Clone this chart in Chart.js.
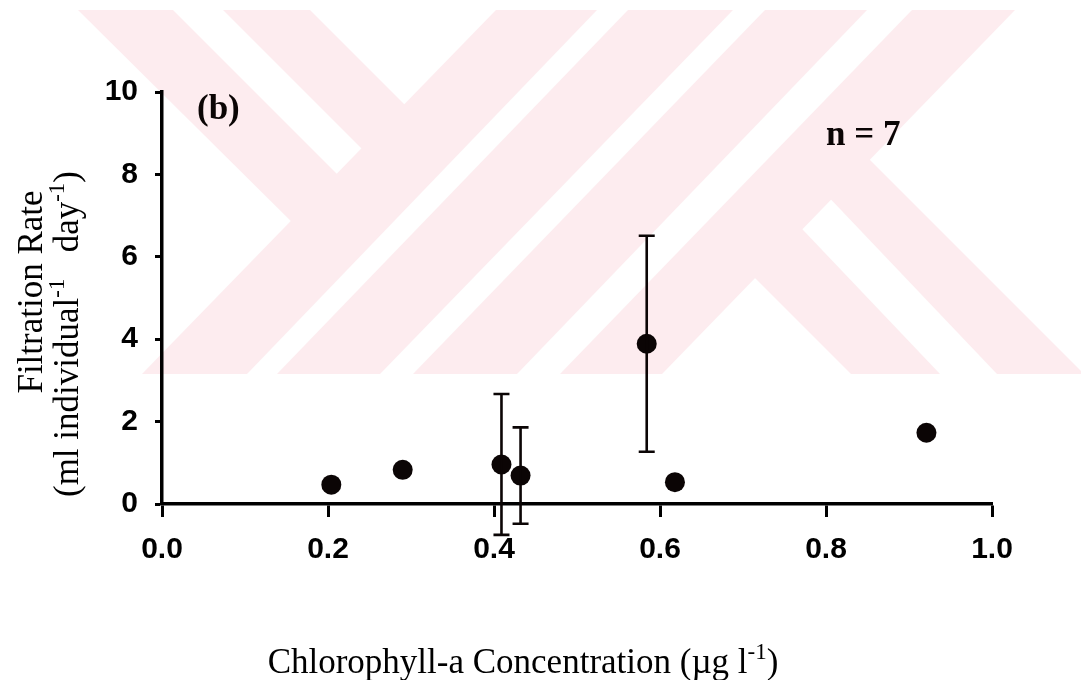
<!DOCTYPE html>
<html>
<head>
<meta charset="utf-8">
<script src="https://cdn.jsdelivr.net/npm/chart.js@4.4.1/dist/chart.umd.min.js"></script>
<style>
  html, body { margin: 0; padding: 0; background: #ffffff; }
  #wrap { width: 1081px; height: 680px; position: relative; }
</style>
</head>
<body>
<div id="wrap"><canvas id="c" width="1081" height="680"></canvas></div>
<script>
// ---- data ----
const chlorophyll = [0.204, 0.29, 0.409, 0.432, 0.584, 0.618, 0.921];   // x (µg l-1)
const filtration  = [0.47, 0.83, 0.96, 0.69, 3.89, 0.53, 1.73];         // y (ml ind-1 day-1)
const filtrationErr = [0, 0, 1.71, 1.17, 2.62, 0, 0];                    // ± error
const xTickLabels = ['0.0', '0.2', '0.4', '0.6', '0.8', '1.0'];
const yTickLabels = ['0', '2', '4', '6', '8', '10'];
const panelLabel = '(b)';
const sampleLabel = 'n = 7';

const INK = '#0b0505';
const PINK = '#fdecef';

// pale watermark drawn behind everything
const watermark = {
  id: 'watermark',
  beforeDraw(chart) {
    const ctx = chart.ctx;
    const poly = (pts, col) => {
      ctx.beginPath();
      ctx.moveTo(pts[0][0], pts[0][1]);
      for (let i = 1; i < pts.length; i++) ctx.lineTo(pts[i][0], pts[i][1]);
      ctx.closePath();
      ctx.fillStyle = col;
      ctx.fill();
    };
    ctx.save();
    ctx.fillStyle = '#ffffff';
    ctx.fillRect(0, 0, chart.width, chart.height);
    ctx.beginPath();
    ctx.rect(0, 10, chart.width, 364);
    ctx.clip();
    // left wing and its white stripe
    poly([[78,10],[310,10],[430,130],[310,240]], PINK);
    poly([[173,10],[223,10],[400,187],[350,187]], '#ffffff');
    // right wing and its white stripe
    poly([[715,238],[842,132],[1084,374],[851,374]], PINK);
    poly([[765,190],[822,190],[997,374],[940,374]], '#ffffff');
    // central band with three white stripes
    poly([[496,10],[1015,10],[662,374],[142,374]], PINK);
    poly([[597,10],[628,10],[277,374],[247,374]], '#ffffff');
    poly([[733,10],[765,10],[413,374],[380,374]], '#ffffff');
    poly([[867,10],[912,10],[560,374],[517,374]], '#ffffff');
    ctx.restore();
  }
};

// error bars
const errorBars = {
  id: 'errorBars',
  afterDatasetsDraw(chart) {
    const ctx = chart.ctx, xs = chart.scales.x, ys = chart.scales.y;
    ctx.save();
    ctx.strokeStyle = INK;
    ctx.lineWidth = 2.6;
    for (let i = 0; i < chlorophyll.length; i++) {
      const e = filtrationErr[i];
      if (!e) continue;
      const px = xs.getPixelForValue(chlorophyll[i]);
      const top = ys.getPixelForValue(filtration[i] + e);
      const bot = ys.getPixelForValue(filtration[i] - e);
      ctx.beginPath();
      ctx.moveTo(px, top); ctx.lineTo(px, bot);
      ctx.moveTo(px - 8, top); ctx.lineTo(px + 8, top);
      ctx.moveTo(px - 8, bot); ctx.lineTo(px + 8, bot);
      ctx.stroke();
    }
    ctx.restore();
  }
};

// annotation texts and axis titles
const texts = {
  id: 'texts',
  afterDraw(chart) {
    const ctx = chart.ctx;
    ctx.save();
    ctx.fillStyle = INK;
    ctx.textBaseline = 'alphabetic';
    ctx.textAlign = 'left';
    ctx.font = 'bold 35px "Liberation Serif", "Times New Roman", serif';
    ctx.fillText(panelLabel, 197, 119);
    ctx.fillText(sampleLabel, 826, 145);

    // draws runs of [text, isSuperscript] centred at (cx, baseline)
    const runs = (parts, cx, base, size) => {
      const norm = size + 'px "Liberation Serif", "Times New Roman", serif';
      const sup = Math.round(size * 0.65) + 'px "Liberation Serif", "Times New Roman", serif';
      let total = 0;
      parts.forEach(p => { ctx.font = p[1] ? sup : norm; total += ctx.measureText(p[0]).width; });
      let x = cx - total / 2;
      parts.forEach(p => {
        ctx.font = p[1] ? sup : norm;
        ctx.fillText(p[0], x, p[1] ? base - size * 0.4 : base);
        x += ctx.measureText(p[0]).width;
      });
    };

    ctx.fillStyle = '#000000';
    // x axis title
    runs([['Chlorophyll-a Concentration (\u00b5g l', false], ['-1', true], [')', false]], 523, 673, 35);

    // y axis title (rotated)
    ctx.save();
    ctx.rotate(-Math.PI / 2);
    runs([['Filtration Rate', false]], -292, 42, 35);
    runs([['(ml individual', false], ['-1', true], ['   day', false], ['-1', true], [')', false]], -334, 78, 35);
    ctx.restore();
    ctx.restore();
  }
};

const tickFontSans = { family: '"Liberation Sans", Arial, sans-serif', size: 30, weight: 'bold' };

new Chart(document.getElementById('c'), {
  type: 'scatter',
  data: {
    datasets: [{
      data: chlorophyll.map((x, i) => ({ x: x, y: filtration[i] })),
      pointRadius: 10,
      pointHoverRadius: 10,
      pointBackgroundColor: INK,
      pointBorderColor: INK,
      pointBorderWidth: 0,
      clip: false
    }]
  },
  options: {
    responsive: false,
    maintainAspectRatio: false,
    devicePixelRatio: 1,
    animation: false,
    events: [],
    layout: { padding: { left: 0, right: 89, top: 92, bottom: 0 } },
    plugins: { legend: { display: false }, tooltip: { enabled: false } },
    scales: {
      x: {
        type: 'linear', min: 0, max: 1,
        ticks: {
          stepSize: 0.2, padding: 15, color: '#000', font: tickFontSans,
          callback: (v, i) => xTickLabels[i]
        },
        grid: { drawOnChartArea: false, drawTicks: true, tickLength: 13, tickWidth: 3, tickColor: '#000' },
        border: { display: true, color: '#000', width: 3.5 },
        afterFit: s => { s.height = 176; }
      },
      y: {
        type: 'linear', min: 0, max: 10,
        ticks: {
          stepSize: 2, padding: 17, color: '#000', font: tickFontSans,
          callback: (v, i) => yTickLabels[i]
        },
        grid: { drawOnChartArea: false, drawTicks: true, tickLength: 7, tickWidth: 3, tickColor: '#000' },
        border: { display: true, color: '#000', width: 3.5 },
        afterFit: s => { s.width = 162; }
      }
    }
  },
  plugins: [watermark, errorBars, texts]
});
</script>
</body>
</html>
